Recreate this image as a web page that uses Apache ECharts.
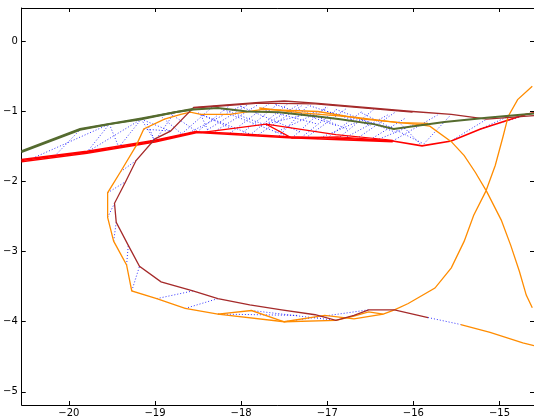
<!DOCTYPE html>
<html>
<head>
<meta charset="utf-8">
<script src="https://cdn.jsdelivr.net/npm/echarts@6/dist/echarts.min.js"></script>
<style>html,body{margin:0;padding:0;background:#fff}#c{width:534px;height:418px}</style>
</head>
<body>
<div id="c"></div>
<script>
// ---- data (x, y pairs in data units) ----
const xRange = [-20.547, -14.6];
const yRange = [-5.188, 0.477];

const greenPath = [[-20.55,-1.58],[-19.87,-1.26],[-19.53,-1.18],[-19.16,-1.11],[-18.77,-1.01],[-18.55,-0.97],[-18.27,-0.95],[-17.93,-1.00],[-17.56,-1.01],[-17.11,-1.07],[-16.85,-1.11],[-16.46,-1.18],[-16.23,-1.25],[-15.64,-1.15],[-15.15,-1.09],[-14.69,-1.04],[-14.6,-1.03]];
const greenPathB = [[-20.55,-1.565],[-19.87,-1.25],[-19.16,-1.10],[-18.55,-0.96]];

const redPathA = [[-20.55,-1.70],[-19.79,-1.58],[-19.42,-1.51],[-19.00,-1.42],[-18.51,-1.29],[-18.13,-1.31],[-17.45,-1.36],[-16.88,-1.38],[-16.24,-1.42],[-15.90,-1.49],[-15.56,-1.42],[-15.22,-1.25],[-14.69,-1.04],[-14.6,-1.02]];
const redPathB = [[-20.55,-1.685],[-19.79,-1.568],[-19.00,-1.41],[-18.51,-1.283]];
const redPathC = [[-20.55,-1.717],[-19.79,-1.595],[-19.00,-1.435],[-18.51,-1.30],[-17.45,-1.375],[-16.24,-1.43]];
const redPathD = [[-18.47,-1.30],[-17.71,-1.18],[-17.41,-1.38],[-16.88,-1.36],[-16.24,-1.42]];
const redPathE = [[-17.71,-1.18],[-16.90,-1.33],[-16.24,-1.41]];

const brownPath = [[-14.6,-1.06],[-15.15,-1.11],[-15.56,-1.04],[-16.01,-1.00],[-17.14,-0.88],[-17.50,-0.85],[-17.79,-0.87],[-18.55,-0.94],[-18.82,-1.28],[-19.00,-1.39],[-19.22,-1.70],[-19.34,-2.00],[-19.47,-2.31],[-19.45,-2.58],[-19.31,-2.91],[-19.18,-3.21],[-18.93,-3.43],[-18.56,-3.56],[-18.27,-3.67],[-17.90,-3.76],[-17.53,-3.83],[-17.14,-3.90],[-16.90,-3.98],[-16.69,-3.91],[-16.52,-3.83],[-16.22,-3.83],[-15.83,-3.94]];
const brownPathB = [[-18.55,-0.95],[-17.79,-0.88],[-17.14,-0.89],[-16.01,-1.01]];

const orangePath = [[-14.62,-0.64],[-14.79,-0.83],[-14.90,-1.07],[-14.96,-1.36],[-15.05,-1.77],[-15.16,-2.14],[-15.30,-2.48],[-15.41,-2.85],[-15.56,-3.23],[-15.75,-3.52],[-16.06,-3.74],[-16.22,-3.83],[-16.35,-3.89],[-16.69,-3.96],[-17.03,-3.91],[-17.50,-4.00],[-17.88,-3.84],[-18.27,-3.89],[-18.65,-3.81],[-18.98,-3.67],[-19.27,-3.56],[-19.33,-3.19],[-19.48,-2.85],[-19.55,-2.51],[-19.55,-2.16],[-19.40,-1.86],[-19.22,-1.49],[-19.13,-1.25],[-18.89,-1.11],[-18.70,-1.04],[-18.59,-1.01],[-18.47,-1.04],[-18.13,-1.04],[-17.75,-0.97],[-17.11,-1.00],[-16.58,-1.11],[-15.98,-1.18],[-15.81,-1.21],[-15.56,-1.43],[-15.41,-1.63],[-15.28,-1.87],[-15.15,-2.14],[-14.98,-2.55],[-14.87,-2.91],[-14.77,-3.28],[-14.69,-3.62],[-14.62,-3.80]];
const orangePathB = [[-18.27,-3.89],[-17.50,-4.00],[-16.90,-3.98],[-16.69,-3.92],[-16.52,-3.86],[-16.35,-3.89]];
const orangePathC = [[-15.45,-4.04],[-15.11,-4.15],[-14.73,-4.30],[-14.6,-4.34]];
const orangePathD = [[-17.79,-0.95],[-17.30,-1.02],[-16.69,-1.08],[-16.17,-1.16],[-15.83,-1.17]];

const blueLinks = [
  [[-18.69,-1.32],[-18.32,-0.92]],[[-18.51,-1.29],[-18.13,-0.91]],[[-18.39,-1.26],[-17.93,-0.91]],
  [[-18.39,-1.26],[-18.47,-1.04]],[[-18.13,-1.31],[-17.67,-0.88]],[[-17.90,-1.34],[-17.45,-0.88]],
  [[-17.71,-1.18],[-17.33,-0.90]],[[-17.71,-1.18],[-17.11,-1.00]],[[-17.56,-1.35],[-17.22,-0.91]],
  [[-17.41,-1.38],[-17.00,-0.92]],[[-17.22,-1.35],[-16.77,-0.95]],[[-17.11,-1.39],[-16.58,-1.11]],
  [[-16.85,-1.36],[-16.46,-0.97]],[[-16.66,-1.39],[-16.20,-1.00]],[[-16.43,-1.41],[-15.98,-1.18]],
  [[-16.24,-1.42],[-15.72,-1.05]],[[-15.90,-1.49],[-15.56,-1.04]],[[-15.90,-1.49],[-16.17,-1.15]],
  [[-15.56,-1.42],[-15.15,-1.11]],[[-15.22,-1.25],[-14.90,-1.07]],[[-15.22,-1.25],[-14.69,-1.05]],
  [[-18.47,-1.04],[-17.90,-1.32]],[[-18.13,-1.04],[-17.45,-1.36]],[[-17.75,-0.97],[-17.11,-1.18]],
  [[-17.33,-0.97],[-16.77,-1.25]],[[-17.00,-1.00],[-16.20,-1.25]],[[-18.81,-1.04],[-18.51,-1.29]],
  [[-18.92,-1.08],[-18.69,-1.32]],[[-19.09,-1.18],[-19.00,-1.42]],[[-19.16,-1.11],[-18.82,-1.28]],
  [[-18.60,-1.30],[-18.00,-0.92]],[[-18.30,-1.28],[-17.80,-0.90]],[[-18.00,-1.32],[-17.55,-0.87]],
  [[-17.80,-1.33],[-17.30,-0.92]],[[-17.60,-1.30],[-17.00,-0.95]],[[-17.30,-1.37],[-16.90,-0.98]],
  [[-17.00,-1.38],[-16.60,-1.00]],[[-16.80,-1.38],[-16.30,-1.05]],[[-16.50,-1.40],[-16.10,-1.10]],
  [[-18.30,-0.93],[-17.70,-1.20]],[[-18.00,-0.93],[-17.30,-1.30]],[[-17.60,-0.90],[-16.90,-1.20]],
  [[-17.20,-0.92],[-16.50,-1.20]],[[-16.90,-0.97],[-16.20,-1.30]],[[-16.60,-1.02],[-15.90,-1.45]],
  [[-18.50,-1.02],[-18.10,-1.25]],
  [[-20.39,-1.65],[-19.53,-1.18]],[[-20.16,-1.63],[-19.87,-1.26]],[[-19.79,-1.58],[-19.53,-1.18]],
  [[-19.53,-1.18],[-19.42,-1.51]],[[-19.42,-1.51],[-19.16,-1.11]],[[-19.16,-1.11],[-19.00,-1.42]],
  [[-19.00,-1.42],[-18.77,-1.01]],[[-19.79,-1.58],[-19.16,-1.11]],
  [[-19.55,-2.16],[-19.34,-2.00]],[[-19.55,-2.51],[-19.47,-2.31]],[[-19.48,-2.85],[-19.45,-2.58]],
  [[-19.33,-3.19],[-19.31,-2.91]],[[-19.27,-3.56],[-19.18,-3.21]],[[-18.98,-3.67],[-18.56,-3.56]],
  [[-18.65,-3.81],[-18.27,-3.67]],[[-18.27,-3.89],[-17.33,-3.91]],[[-17.88,-3.84],[-16.90,-3.98]],
  [[-17.50,-4.00],[-16.52,-3.83]],[[-15.83,-3.94],[-15.45,-4.04]],
  [[-19.40,-1.86],[-19.22,-1.70]],[[-19.22,-1.49],[-19.00,-1.39]],[[-19.13,-1.25],[-18.82,-1.28]]
];

// ---- chart ----
const chart = echarts.init(document.getElementById('c'), null, {renderer: 'canvas'});
const FONT = 'DejaVu Sans';
const fmt = v => (v < 0 ? '\u2212' : '') + Math.abs(v);

function axisCommon(show, margin) {
  return {
    axisLine: {show: true, onZero: false, lineStyle: {color: '#000', width: 1}},
    axisTick: {show: true, inside: true, length: 4, lineStyle: {color: '#000', width: 1}},
    splitLine: {show: false},
    axisLabel: {show: show, color: '#000', fontFamily: FONT, fontSize: 10, formatter: fmt,
      margin: margin, showMinLabel: false, showMaxLabel: false}
  };
}

function linesSeries(paths, color, width, type, opacity) {
  return {
    type: 'lines', coordinateSystem: 'cartesian2d', polyline: true, silent: true,
    xAxisIndex: 0, yAxisIndex: 0, animation: false,
    lineStyle: {color: color, width: width, type: type, opacity: opacity},
    data: paths.map(p => ({coords: p}))
  };
}

chart.setOption({
  animation: false,
  grid: {left: 16, top: 8, width: 525.7, height: 400, containLabel: false},
  xAxis: [
    Object.assign({type: 'value', position: 'bottom', min: xRange[0], max: xRange[1]}, axisCommon(true, 3)),
    Object.assign({type: 'value', position: 'top', min: xRange[0], max: xRange[1]}, axisCommon(false, 3))
  ],
  yAxis: [
    Object.assign({type: 'value', position: 'left', min: yRange[0], max: yRange[1]}, axisCommon(true, 4)),
    Object.assign({type: 'value', position: 'right', min: yRange[0], max: yRange[1]}, axisCommon(false, 4))
  ],
  series: [
    linesSeries(blueLinks, '#0000ff', 1, [1, 2], 0.8),
    linesSeries([redPathA, redPathB, redPathC], '#ff0000', 1.6, 'solid', 1),
    linesSeries([redPathD, redPathE], '#ff0000', 1.2, 'solid', 1),
    linesSeries([orangePath, orangePathB, orangePathC, orangePathD], '#ff8c00', 1.3, 'solid', 1),
    linesSeries([brownPath, brownPathB], '#a52a2a', 1.3, 'solid', 1),
    linesSeries([greenPath, greenPathB], '#556b2f', 2, 'solid', 1)
  ]
});
</script>
</body>
</html>
